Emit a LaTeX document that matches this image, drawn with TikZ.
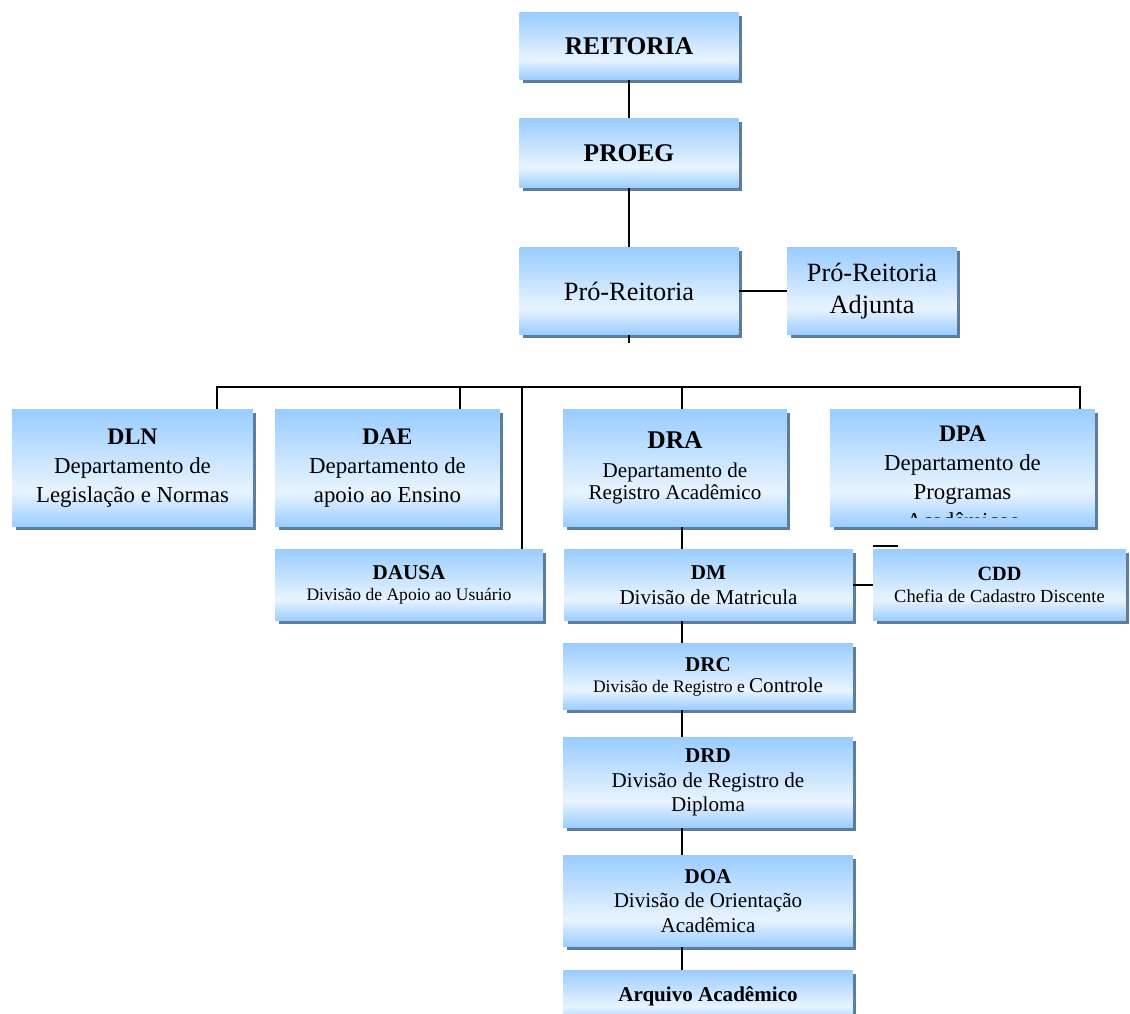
\documentclass[tikz,border=0pt]{standalone}
\usepackage{fontspec}
\setmainfont{Liberation Serif}
\usetikzlibrary{shadows,positioning}

\definecolor{boxblue}{RGB}{153,204,255}
\definecolor{boxlight}{RGB}{232,244,255}
\definecolor{boxshadow}{RGB}{94,125,156}
\pgfdeclareverticalshading{orgshade}{100bp}{color(0bp)=(boxblue); color(25bp)=(boxblue); color(40bp)=(boxlight); color(75bp)=(boxblue); color(100bp)=(boxblue)}

\newcommand{\titlefont}{\bfseries\fontsize{14.5}{17}\selectfont}
\newcommand{\topfont}{\fontsize{15}{18}\selectfont}
\newcommand{\deptfont}{\fontsize{13}{16.5}\selectfont}
\newcommand{\depttitle}{\bfseries\fontsize{13.5}{16.5}\selectfont}
\newcommand{\divfont}{\fontsize{12}{14}\selectfont}
\newcommand{\smallfont}{\fontsize{10}{12}\selectfont}

\tikzset{
  orgbox/.style={rectangle, inner sep=0pt, align=center, shade, shading=orgshade, draw=none,
    drop shadow={shadow xshift=0.07cm, shadow yshift=-0.07cm, fill=boxshadow, opacity=1}},
  link/.style={line width=1.1pt, black},
}

\begin{document}
\begin{tikzpicture}[x=0.02cm, y=-0.02cm]
  \useasboundingbox (0,0) rectangle (1130,1014);
  % upper levels
  \node[orgbox, minimum width=4.38cm, minimum height=1.34cm, font=\titlefont] (reitoria) at (629,46) {REITORIA};
  \node[orgbox, minimum width=4.38cm, minimum height=1.40cm, font=\titlefont] (proeg) at (629,153) {PROEG};
  \node[orgbox, minimum width=4.38cm, minimum height=1.74cm, font=\topfont] (pro) at (629,291) {Pró-Reitoria};
  \node[orgbox, minimum width=3.40cm, minimum height=1.74cm, font=\topfont] (adj) at (872,291) {Pró-Reitoria\\Adjunta};
  % departments
  \node[orgbox, minimum width=4.82cm, minimum height=2.36cm, font=\deptfont] (dln) at (132.5,468)
    {{\depttitle DLN}\\Departamento de\\Legislação e Normas};
  \node[orgbox, minimum width=4.50cm, minimum height=2.36cm, font=\deptfont] (dae) at (387.5,468)
    {{\depttitle DAE}\\Departamento de\\apoio ao Ensino};
  \node[orgbox, minimum width=4.48cm, minimum height=2.36cm, font=\fontsize{12}{12.5}\selectfont] (dra) at (675,468)
    {{\titlefont DRA}\\[4pt]Departamento de\\Registro Acadêmico};
  \node[orgbox, minimum width=5.30cm, minimum height=2.36cm] (dpa) at (962.5,468) {};
  \begin{scope}
    \clip (dpa.north west) rectangle ([yshift=0.2cm]dpa.south east);
    \node[below=0.34cm of dpa.north, align=center, inner sep=0pt, font=\deptfont] (dpatext)
      {{\depttitle DPA}\\Departamento de\\Programas\\Acadêmicos};
  \end{scope}
  % divisions
  \node[orgbox, minimum width=5.36cm, minimum height=1.44cm, font=\smallfont] (dausa) at (409,585)
    {{\bfseries\fontsize{12}{14}\selectfont DAUSA}\\Divisão de Apoio ao Usuário};
  \node[orgbox, minimum width=5.78cm, minimum height=1.44cm, font=\divfont] (dm) at (708.5,585)
    {{\bfseries DM}\\Divisão de Matricula};
  \node[orgbox, minimum width=5.06cm, minimum height=1.44cm, font=\fontsize{10.5}{12.5}\selectfont] (cdd) at (999.5,585)
    {{\bfseries\fontsize{11.5}{13}\selectfont CDD}\\Chefia de Cadastro Discente};
  \node[orgbox, minimum width=5.80cm, minimum height=1.34cm, font=\smallfont] (drc) at (708,676.5)
    {{\bfseries\fontsize{12}{14}\selectfont DRC}\\Divisão de Registro e {\fontsize{12}{14}\selectfont Controle}};
  \node[orgbox, minimum width=5.80cm, minimum height=1.82cm, font=\divfont] (drd) at (708,782.5)
    {{\bfseries DRD}\\Divisão de Registro de\\Diploma};
  \node[orgbox, minimum width=5.80cm, minimum height=1.84cm, font=\divfont] (doa) at (708,901)
    {{\bfseries DOA}\\Divisão de Orientação\\Acadêmica};
  \node[orgbox, minimum width=5.80cm, minimum height=1.04cm, font=\divfont] (arq) at (708,996)
    {\bfseries Arquivo Acadêmico};
  % connectors
  \coordinate (protick) at (629,343);
  \coordinate (busl) at (217,387);
  \coordinate (busr) at (1080,387);
  \coordinate (tapdae) at (460,387);
  \coordinate (tapdausa) at (522,387);
  \coordinate (tapdra) at (682,387);
  \coordinate (cddtickl) at (873,546);
  \coordinate (cddtickr) at (898,546);
  \draw[link] (reitoria.south) -- (proeg.north);
  \draw[link] (proeg.south) -- (pro.north);
  \draw[link] (pro.east) -- (adj.west);
  \draw[link] (pro.south) -- (protick);
  \draw[link] (busl |- dln.north) -- (busl) -- (busr) -- (busr |- dpa.north);
  \draw[link] (tapdae) -- (tapdae |- dae.north);
  \draw[link] (tapdausa) -- (tapdausa |- dausa.north);
  \draw[link] (tapdra) -- (tapdra |- dra.north);
  \foreach \a/\b in {dra/dm, dm/drc, drc/drd, drd/doa, doa/arq}
    \draw[link] (\a.south -| tapdra) -- (\b.north -| tapdra);
  \draw[link] (dm.east) -- (cdd.west);
  \draw[link] (cddtickl) -- (cddtickr);
\end{tikzpicture}
\end{document}
